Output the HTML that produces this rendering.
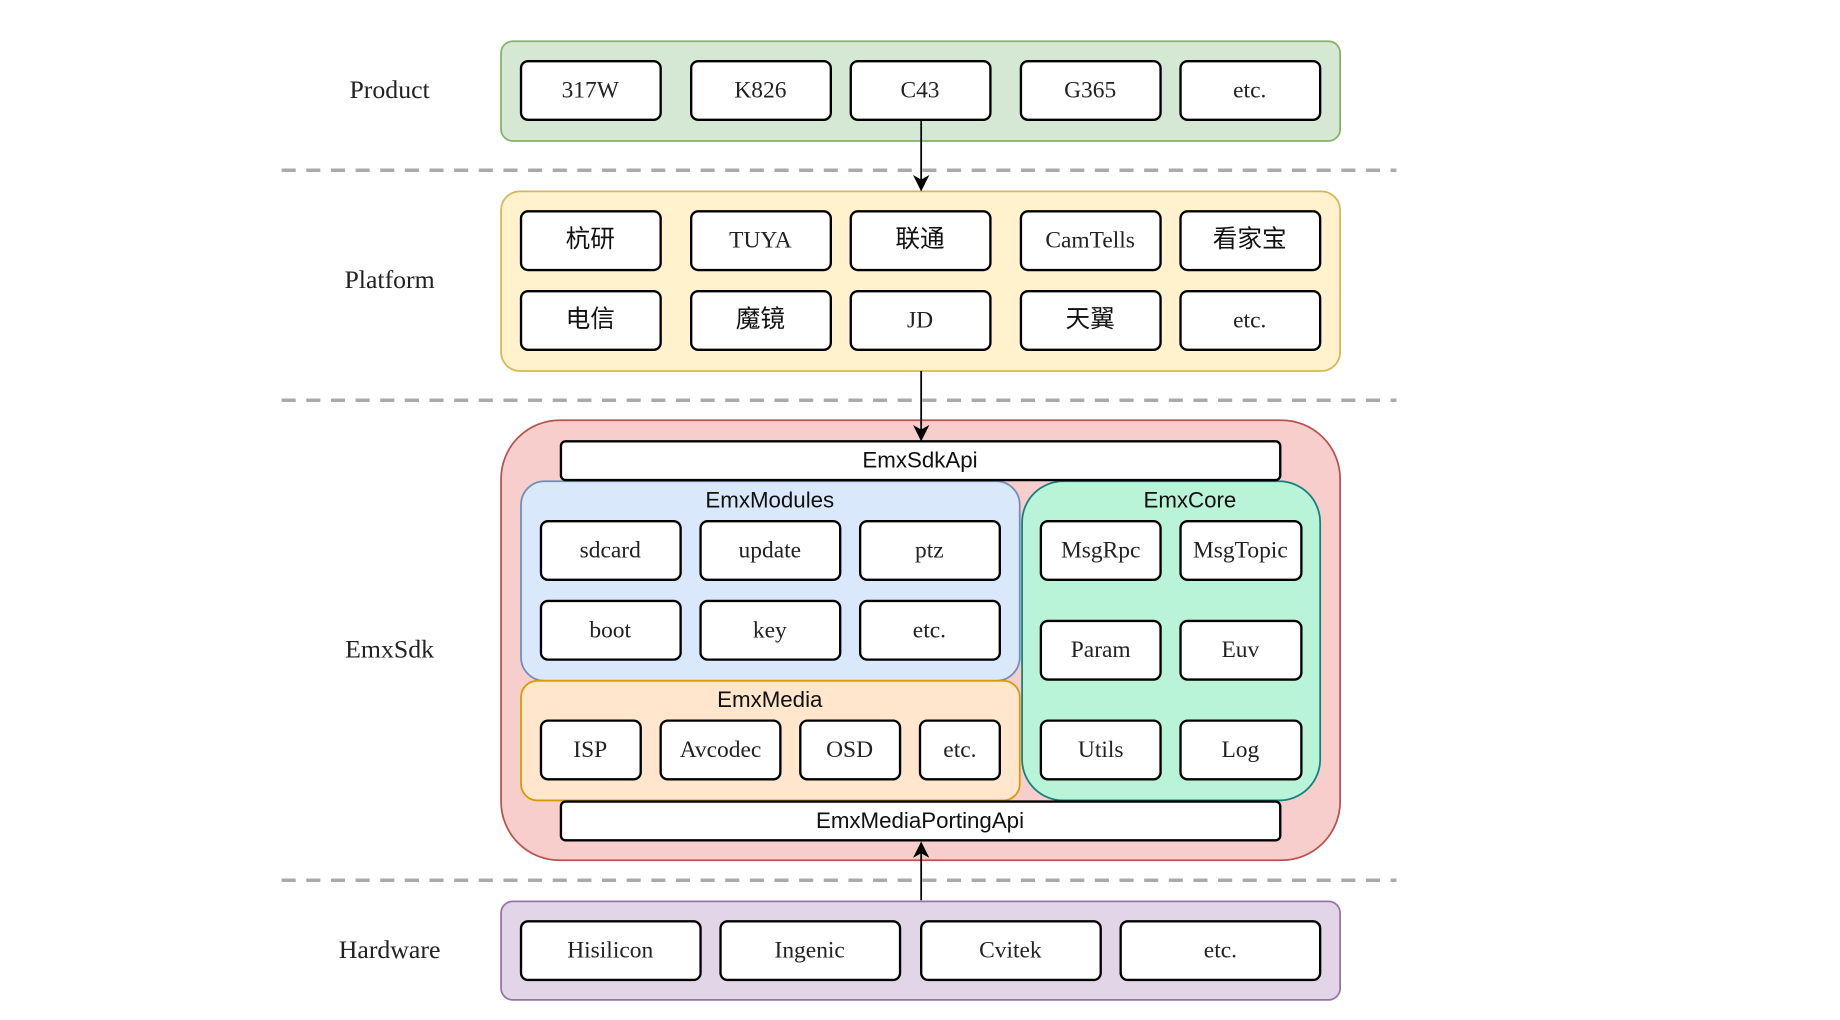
<!DOCTYPE html>
<html><head><meta charset="utf-8"><style>body{margin:0;background:#fff}svg{display:block}
.s{font-family:"Liberation Serif","Noto Serif CJK SC",serif;font-size:20px;fill:#222}
.l{font-family:"Liberation Serif",serif;font-size:22px;fill:#222}
.c{font-family:"Liberation Sans","Noto Sans CJK SC",sans-serif;font-size:21px;fill:#111}
.a{font-family:"Liberation Sans",sans-serif;font-size:19px;fill:#111}
.b{fill:#fff;stroke:#000;stroke-width:2}
</style></head><body>
<svg width="1840" height="1020" viewBox="0 0 1568 869" xmlns="http://www.w3.org/2000/svg">
<defs><marker id="m" markerWidth="14" markerHeight="14" refX="13" refY="7" orient="auto" markerUnits="userSpaceOnUse"><path d="M0,0 L14,7 L0,14 L4,7 Z" fill="#000"/></marker></defs>
<g stroke="#aaa" stroke-width="3" stroke-dasharray="12 9">
<line x1="240" y1="145" x2="1190" y2="145"/><line x1="240" y1="341" x2="1190" y2="341"/><line x1="240" y1="750" x2="1190" y2="750"/></g>
<g text-anchor="middle" dominant-baseline="central">
<text class="l" x="332" y="76">Product</text><text class="l" x="332" y="238">Platform</text><text class="l" x="332" y="553">EmxSdk</text><text class="l" x="332" y="809">Hardware</text>
</g>
<rect x="427" y="35" width="715" height="85" rx="10" fill="#d5e8d4" stroke="#82b366" stroke-width="1.5"/>
<rect x="427" y="163" width="715" height="153" rx="16" fill="#fff2cc" stroke="#d6b656" stroke-width="1.5"/>
<rect x="427" y="358" width="715" height="375" rx="50" fill="#f8cecc" stroke="#b85450" stroke-width="1.5"/>
<rect x="427" y="768" width="715" height="84" rx="10" fill="#e1d5e7" stroke="#9673a6" stroke-width="1.5"/>
<rect x="444" y="410" width="425" height="170" rx="20" fill="#dae8fc" stroke="#6c8ebf" stroke-width="1.5"/>
<rect x="444" y="580" width="425" height="102" rx="14" fill="#ffe6cc" stroke="#d79b00" stroke-width="1.5"/>
<rect x="871" y="410" width="254" height="272" rx="35" fill="#baf4d8" stroke="#12807f" stroke-width="1.5"/>
<rect class="b" x="478" y="376" width="613" height="33" rx="4"/>
<rect class="b" x="478" y="683" width="613" height="33" rx="4"/>
<g class="b">
<rect x="444" y="52" width="119" height="50" rx="6"/><rect x="589" y="52" width="119" height="50" rx="6"/><rect x="725" y="52" width="119" height="50" rx="6"/><rect x="870" y="52" width="119" height="50" rx="6"/><rect x="1006" y="52" width="119" height="50" rx="6"/>
<rect x="444" y="180" width="119" height="50" rx="6"/><rect x="589" y="180" width="119" height="50" rx="6"/><rect x="725" y="180" width="119" height="50" rx="6"/><rect x="870" y="180" width="119" height="50" rx="6"/><rect x="1006" y="180" width="119" height="50" rx="6"/>
<rect x="444" y="248" width="119" height="50" rx="6"/><rect x="589" y="248" width="119" height="50" rx="6"/><rect x="725" y="248" width="119" height="50" rx="6"/><rect x="870" y="248" width="119" height="50" rx="6"/><rect x="1006" y="248" width="119" height="50" rx="6"/>
<rect x="461" y="444" width="119" height="50" rx="6"/><rect x="597" y="444" width="119" height="50" rx="6"/><rect x="733" y="444" width="119" height="50" rx="6"/>
<rect x="461" y="512" width="119" height="50" rx="6"/><rect x="597" y="512" width="119" height="50" rx="6"/><rect x="733" y="512" width="119" height="50" rx="6"/>
<rect x="461" y="614" width="85" height="50" rx="6"/><rect x="563" y="614" width="102" height="50" rx="6"/><rect x="682" y="614" width="85" height="50" rx="6"/><rect x="784" y="614" width="68" height="50" rx="6"/>
<rect x="887" y="444" width="102" height="50" rx="6"/><rect x="1006" y="444" width="103" height="50" rx="6"/>
<rect x="887" y="529" width="102" height="50" rx="6"/><rect x="1006" y="529" width="103" height="50" rx="6"/>
<rect x="887" y="614" width="102" height="50" rx="6"/><rect x="1006" y="614" width="103" height="50" rx="6"/>
<rect x="444" y="785" width="153" height="50" rx="6"/><rect x="614" y="785" width="153" height="50" rx="6"/><rect x="785" y="785" width="153" height="50" rx="6"/><rect x="955" y="785" width="170" height="50" rx="6"/>
</g>
<g stroke="#000" stroke-width="1.5" marker-end="url(#m)">
<line x1="785" y1="102" x2="785" y2="162"/><line x1="785" y1="316" x2="785" y2="375"/><line x1="785" y1="767" x2="785" y2="718"/></g>
<g text-anchor="middle" dominant-baseline="central">
<text class="s" x="503" y="77">317W</text><text class="s" x="648" y="77">K826</text><text class="s" x="784" y="77">C43</text><text class="s" x="929" y="77">G365</text><text class="s" x="1065" y="77">etc.</text>
<text class="c" x="503" y="204">杭研</text><text class="s" x="648" y="205">TUYA</text><text class="c" x="784" y="204">联通</text><text class="s" x="929" y="205">CamTells</text><text class="c" x="1065" y="204">看家宝</text>
<text class="c" x="503" y="272">电信</text><text class="c" x="648" y="272">魔镜</text><text class="s" x="784" y="273">JD</text><text class="c" x="929" y="272">天翼</text><text class="s" x="1065" y="273">etc.</text>
<text class="a" x="784" y="392">EmxSdkApi</text><text class="a" x="656" y="426">EmxModules</text><text class="a" x="656" y="596">EmxMedia</text><text class="a" x="1014" y="426">EmxCore</text><text class="a" x="784" y="699">EmxMediaPortingApi</text>
<text class="s" x="520" y="469">sdcard</text><text class="s" x="656" y="469">update</text><text class="s" x="792" y="469">ptz</text>
<text class="s" x="520" y="537">boot</text><text class="s" x="656" y="537">key</text><text class="s" x="792" y="537">etc.</text>
<text class="s" x="503" y="639">ISP</text><text class="s" x="614" y="639">Avcodec</text><text class="s" x="724" y="639">OSD</text><text class="s" x="818" y="639">etc.</text>
<text class="s" x="938" y="469">MsgRpc</text><text class="s" x="1057" y="469">MsgTopic</text>
<text class="s" x="938" y="554">Param</text><text class="s" x="1057" y="554">Euv</text>
<text class="s" x="938" y="639">Utils</text><text class="s" x="1057" y="639">Log</text>
<text class="s" x="520" y="810">Hisilicon</text><text class="s" x="690" y="810">Ingenic</text><text class="s" x="861" y="810">Cvitek</text><text class="s" x="1040" y="810">etc.</text>
</g>
</svg>
</body></html>
